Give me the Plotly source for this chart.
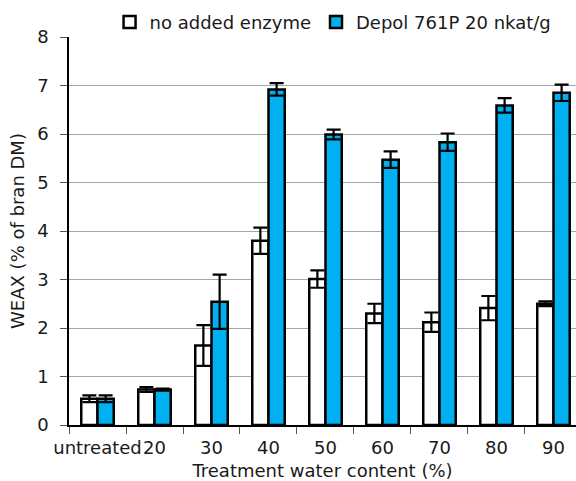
import plotly.graph_objects as go

categories = ["untreated", "20", "30", "40", "50", "60", "70", "80", "90"]
no_enzyme = [0.54, 0.73, 1.64, 3.80, 3.01, 2.30, 2.12, 2.41, 2.50]
no_enzyme_err = [0.07, 0.05, 0.42, 0.27, 0.18, 0.20, 0.20, 0.25, 0.05]
depol = [0.54, 0.73, 2.54, 6.92, 5.99, 5.47, 5.83, 6.59, 6.85]
depol_err = [0.07, 0.02, 0.56, 0.13, 0.10, 0.17, 0.18, 0.15, 0.17]
y_ticks = [0, 1, 2, 3, 4, 5, 6, 7, 8]

FONT = "DejaVu Sans"
BLUE = "#00B0F0"

fig = go.Figure()
fig.add_trace(go.Bar(
    x=categories, y=no_enzyme, name="no added enzyme",
    marker=dict(color="white", line=dict(color="black", width=2.5)),
    error_y=dict(type="data", array=no_enzyme_err, visible=True,
                 color="black", thickness=2.2, width=7),
))
fig.add_trace(go.Bar(
    x=categories, y=depol, name="Depol 761P 20 nkat/g",
    marker=dict(color=BLUE, line=dict(color="black", width=2.5)),
    error_y=dict(type="data", array=depol_err, visible=True,
                 color="black", thickness=2.2, width=7),
))

fig.update_layout(
    width=576, height=481,
    margin=dict(l=69, r=0, t=37, b=56, autoexpand=False),
    paper_bgcolor="white", plot_bgcolor="white",
    barmode="group", bargap=0.43, bargroupgap=0,
    font=dict(family=FONT, size=18, color="#1a1a1a"),
    showlegend=True,
    legend=dict(orientation="h", x=0.08, xanchor="left", y=0.99, yanchor="bottom",
                font=dict(family=FONT, size=18, color="#1a1a1a"),
                bgcolor="rgba(0,0,0,0)", itemclick=False),
    xaxis=dict(
        type="category", range=[-0.5, 8.395], automargin=False, tickangle=0,
        showline=True, linecolor="black", linewidth=1.5,
        ticks="outside", tickson="boundaries", ticklen=7, tickcolor="#555555",
        ticklabelstandoff=6,
        showgrid=False,
        title=dict(text="Treatment water content (%)", standoff=7,
                   font=dict(family=FONT, size=18)),
        tickfont=dict(family=FONT, size=18),
    ),
    yaxis=dict(
        range=[0, 8], tickvals=y_ticks, automargin=False,
        showline=True, linecolor="black", linewidth=1.5,
        ticks="outside", ticklen=7, tickcolor="#555555",
        ticklabelstandoff=8,
        showgrid=True, gridcolor="#A6A6A6", gridwidth=1,
        zeroline=False,
        title=dict(text="WEAX (% of bran DM)", standoff=8,
                   font=dict(family=FONT, size=18)),
        tickfont=dict(family=FONT, size=18),
    ),
)

fig.write_html("out.html", config={"displayModeBar": False},
               post_script="document.body.style.margin='0';")
